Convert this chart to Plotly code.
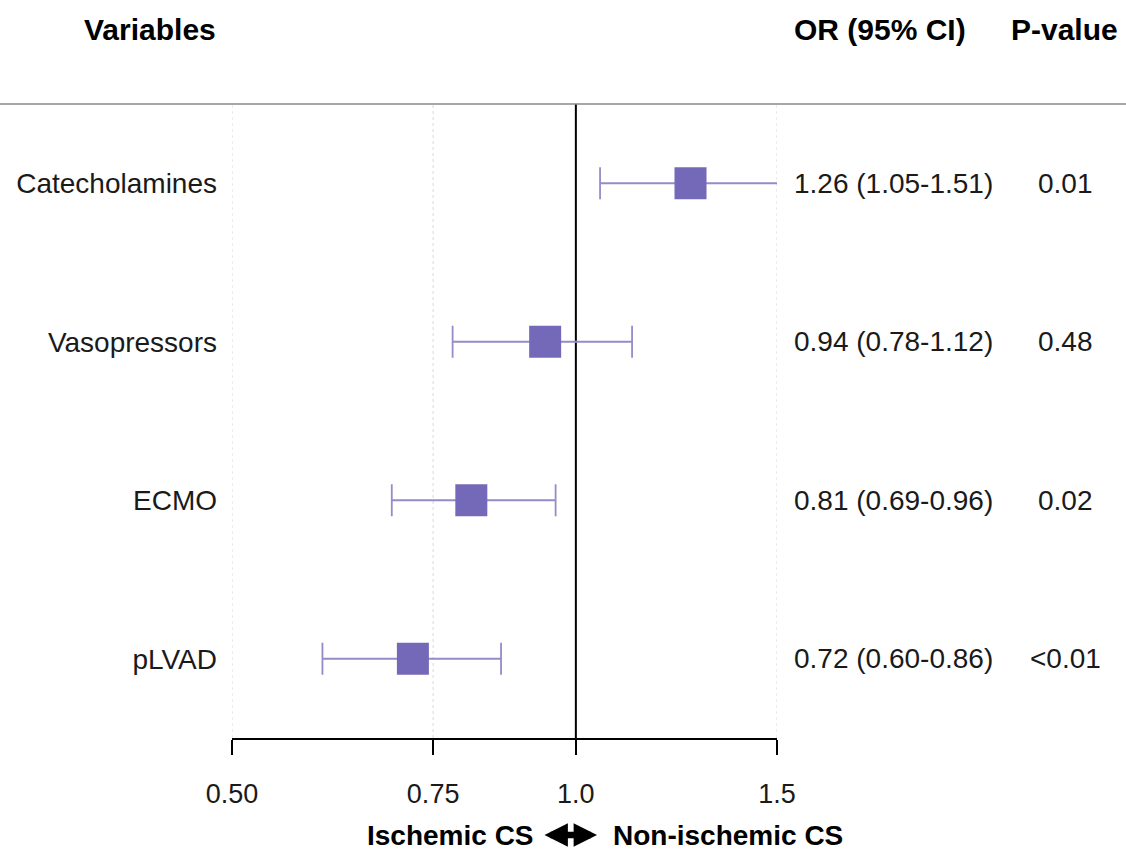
import plotly.graph_objects as go

variables = ["Catecholamines", "Vasopressors", "ECMO", "pLVAD"]
odds_ratio = [1.26, 0.94, 0.81, 0.72]
ci_low = [1.05, 0.78, 0.69, 0.60]
ci_high = [1.51, 1.12, 0.96, 0.86]
p_values = ["0.01", "0.48", "0.02", "<0.01"]
x_ticks = [0.5, 0.75, 1.0, 1.5]
x_tick_labels = ["0.50", "0.75", "1.0", "1.5"]

n = len(variables)
ypos = [n - i for i in range(n)]
or_text = [f"{o:.2f} ({l:.2f}-{h:.2f})" for o, l, h in zip(odds_ratio, ci_low, ci_high)]

FONT = "Liberation Sans, Arial, Helvetica, sans-serif"
TXT = "#1a1a1a"
MARK = "#7468b8"
ERR = "#938cc9"

W, H = 1126, 850
L, R, T, B = 232, 777, 104, 738
pw, ph = R - L, B - T

def px(xp):
    return (xp - L) / pw

def py(yp):
    return (B - yp) / ph

fig = go.Figure()

# dotted gridlines at the tick positions (except the reference line)
for xv in x_ticks:
    if xv == 1.0:
        continue
    fig.add_trace(go.Scatter(
        x=[xv, xv], y=[0.5, n + 0.5], mode="lines",
        line=dict(color="#e2e2e2", width=1.3, dash="dot"),
        hoverinfo="skip", showlegend=False, cliponaxis=False,
    ))

# reference line at OR = 1
fig.add_trace(go.Scatter(
    x=[1.0, 1.0], y=[0.5, n + 0.5], mode="lines",
    line=dict(color="black", width=2), hoverinfo="skip", showlegend=False,
))

fig.add_trace(go.Scatter(
    x=odds_ratio, y=ypos, mode="markers",
    marker=dict(symbol="square", size=32, color=MARK, line=dict(width=0)),
    error_x=dict(
        type="data", symmetric=False,
        array=[h - o for h, o in zip(ci_high, odds_ratio)],
        arrayminus=[o - l for o, l in zip(odds_ratio, ci_low)],
        color=ERR, thickness=1.8, width=16,
    ),
    cliponaxis=False, showlegend=False,
))

annotations = []
for y, t, p in zip(ypos, or_text, p_values):
    annotations.append(dict(x=px(792), xref="paper", y=y, yref="y", text=t,
                            showarrow=False, xanchor="left", yanchor="middle",
                            font=dict(family=FONT, size=28, color=TXT)))
    annotations.append(dict(x=px(1065), xref="paper", y=y, yref="y", text=p,
                            showarrow=False, xanchor="center", yanchor="middle",
                            font=dict(family=FONT, size=28, color=TXT)))

hdr_font = dict(family=FONT, size=30, color="black")
annotations.append(dict(x=px(218), xref="paper", y=py(29), yref="paper",
                        text="<b>Variables</b>", showarrow=False,
                        xanchor="right", yanchor="middle", font=hdr_font))
annotations.append(dict(x=px(792), xref="paper", y=py(29), yref="paper",
                        text="<b>OR (95% CI)</b>", showarrow=False,
                        xanchor="left", yanchor="middle", font=hdr_font))
annotations.append(dict(x=px(1064), xref="paper", y=py(29), yref="paper",
                        text="<b>P-value</b>", showarrow=False,
                        xanchor="center", yanchor="middle", font=hdr_font))

bot_font = dict(family=FONT, size=28, color="black")
annotations.append(dict(x=px(536), xref="paper", y=py(835), yref="paper",
                        text="<b>Ischemic CS</b>", showarrow=False,
                        xanchor="right", yanchor="middle", font=bot_font))
# double-headed arrow between the two direction labels
annotations.append(dict(x=px(597), xref="paper", y=py(835), yref="paper",
                        ax=-54, ay=0, axref="pixel", ayref="pixel",
                        text="", showarrow=True, arrowside="end+start",
                        arrowhead=2, startarrowhead=2,
                        arrowsize=0.72, startarrowsize=0.72,
                        arrowwidth=6.5, arrowcolor="black",
                        standoff=0, startstandoff=0))
annotations.append(dict(x=px(611), xref="paper", y=py(835), yref="paper",
                        text="<b>Non-ischemic CS</b>", showarrow=False,
                        xanchor="left", yanchor="middle", font=bot_font))

shapes = [dict(type="line", xref="paper", yref="paper",
               x0=px(0), x1=px(W), y0=1, y1=1,
               line=dict(color="#8a8a8a", width=1.5))]

fig.update_layout(
    width=W, height=H,
    margin=dict(l=L, r=W - R, t=T, b=H - B, pad=0),
    paper_bgcolor="white", plot_bgcolor="white",
    annotations=annotations, shapes=shapes,
    showlegend=False,
    xaxis=dict(
        type="log", range=[-0.30103, 0.176091],
        tickvals=x_ticks, ticktext=x_tick_labels,
        showgrid=False,
        showline=True, linecolor="black", linewidth=2,
        ticks="outside", ticklen=15, tickwidth=2, tickcolor="black",
        ticklabelstandoff=16,
        tickfont=dict(family=FONT, size=27, color=TXT),
        zeroline=False, fixedrange=True,
    ),
    yaxis=dict(
        range=[0.5, n + 0.5],
        tickvals=ypos, ticktext=variables,
        showgrid=False, zeroline=False, showline=False, ticks="",
        ticklabelstandoff=14,
        tickfont=dict(family=FONT, size=28, color=TXT),
        fixedrange=True,
    ),
)

fig.write_html("out.html", config={"displayModeBar": False},
               post_script="document.body.style.margin='0';document.body.style.overflow='hidden';")
